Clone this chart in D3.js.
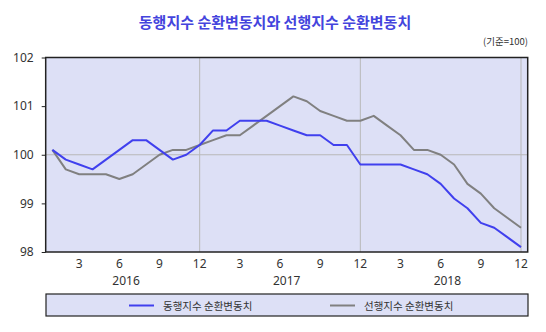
<!DOCTYPE html>
<html><head><meta charset="utf-8">
<script src="https://cdn.jsdelivr.net/npm/d3@7"></script>
<style>body{margin:0;background:#fff}svg{display:block}text{font-family:"Noto Sans CJK KR","Noto Sans",sans-serif}</style>
</head><body><svg id="c" width="546" height="332"></svg>
<script>
const title = "동행지수 순환변동치와 선행지수 순환변동치";
const unitLabel = "(기준=100)";
const years = ["2016","2017","2018"];
const monthsPerYear = ["1","2","3","4","5","6","7","8","9","10","11","12"];
const seriesNames = ["동행지수 순환변동치","선행지수 순환변동치"];
const coincident = [100.1,99.9,99.8,99.7,99.9,100.1,100.3,100.3,100.1,99.9,100.0,100.2,
  100.5,100.5,100.7,100.7,100.7,100.6,100.5,100.4,100.4,100.2,100.2,99.8,
  99.8,99.8,99.8,99.7,99.6,99.4,99.1,98.9,98.6,98.5,98.3,98.1];
const leading = [100.1,99.7,99.6,99.6,99.6,99.5,99.6,99.8,100.0,100.1,100.1,100.2,
  100.3,100.4,100.4,100.6,100.8,101.0,101.2,101.1,100.9,100.8,100.7,100.7,
  100.8,100.6,100.4,100.1,100.1,100.0,99.8,99.4,99.2,98.9,98.7,98.5];
const yTicks = [98,99,100,101,102];
const tickMonths = ["3","6","9","12"];
const colors = ["#4040ee","#808080"];

const svg = d3.select("#c");
const L=45.7, R=527.7, T=57.5, B=252;
const idx = d3.range(coincident.length);
const x = d3.scaleBand().domain(idx).range([L,R]);
const cx = i => x(i)+x.bandwidth()/2;
const y = d3.scaleLinear().domain([98,102]).range([B,T]);

svg.append("text").attr("x",275).attr("y",28).attr("text-anchor","middle")
  .attr("font-size",15).attr("font-weight","bold").attr("fill","#4444dd").text(title);
svg.append("text").attr("x",528).attr("y",45).attr("text-anchor","end")
  .attr("font-size",9.5).attr("fill","#333").text(unitLabel);

svg.append("rect").attr("x",L).attr("y",T).attr("width",R-L).attr("height",B-T).attr("fill","#dde0f6");

// grid
svg.append("line").attr("x1",L).attr("x2",R).attr("y1",y(100)).attr("y2",y(100)).attr("stroke","#b8b8b8").attr("stroke-width",1);
years.forEach((yr,k)=>{
  const i = k*12+11;
  svg.append("line").attr("x1",cx(i)).attr("x2",cx(i)).attr("y1",T).attr("y2",B).attr("stroke","#b8b8b8").attr("stroke-width",1);
});

const line = d3.line().x((d,i)=>cx(i)).y(d=>y(d));
[coincident,leading].slice().reverse().forEach((s,k)=>{
  svg.append("path").datum(s).attr("d",line).attr("fill","none")
    .attr("stroke",colors[1-k]).attr("stroke-width",2).attr("stroke-linejoin","round");
});

svg.append("rect").attr("x",L).attr("y",T).attr("width",R-L).attr("height",B-T).attr("fill","none").attr("stroke","#222").attr("stroke-width",1.5);

// y axis
const ya = svg.append("g").attr("transform",`translate(${L},0)`)
  .call(d3.axisLeft(y).tickValues(yTicks).tickSize(4).tickFormat(d3.format("d")));
ya.select(".domain").remove();
ya.selectAll("line").attr("stroke","#222");
ya.selectAll("text").attr("font-size",12).attr("fill","#333").attr("x",-12)
  .style("font-family","'Noto Sans','Noto Sans CJK KR',sans-serif");

// x labels
idx.forEach(i=>{
  const m = monthsPerYear[i%12];
  if(tickMonths.includes(m)){
    svg.append("text").attr("x",cx(i)).attr("y",268).attr("text-anchor","middle")
      .attr("font-size",12).attr("fill","#333").style("font-family","'Noto Sans',sans-serif").text(m);
  }
});
years.forEach((yr,k)=>{
  svg.append("text").attr("x",(cx(k*12)+cx(k*12+11))/2).attr("y",285).attr("text-anchor","middle")
    .attr("font-size",12).attr("fill","#333").style("font-family","'Noto Sans',sans-serif").text(yr);
});

// legend
svg.append("rect").attr("x",46).attr("y",294).attr("width",482).attr("height",22)
  .attr("fill","#dde0f6").attr("stroke","#222").attr("stroke-width",1.2);
const lx=[129,330];
seriesNames.forEach((n,k)=>{
  svg.append("line").attr("x1",lx[k]).attr("x2",lx[k]+25).attr("y1",305.5).attr("y2",305.5)
    .attr("stroke",colors[k]).attr("stroke-width",2);
  svg.append("text").attr("x",lx[k]+34).attr("y",309.5).attr("font-size",10.5).attr("fill","#333").text(n);
});
</script></body></html>
